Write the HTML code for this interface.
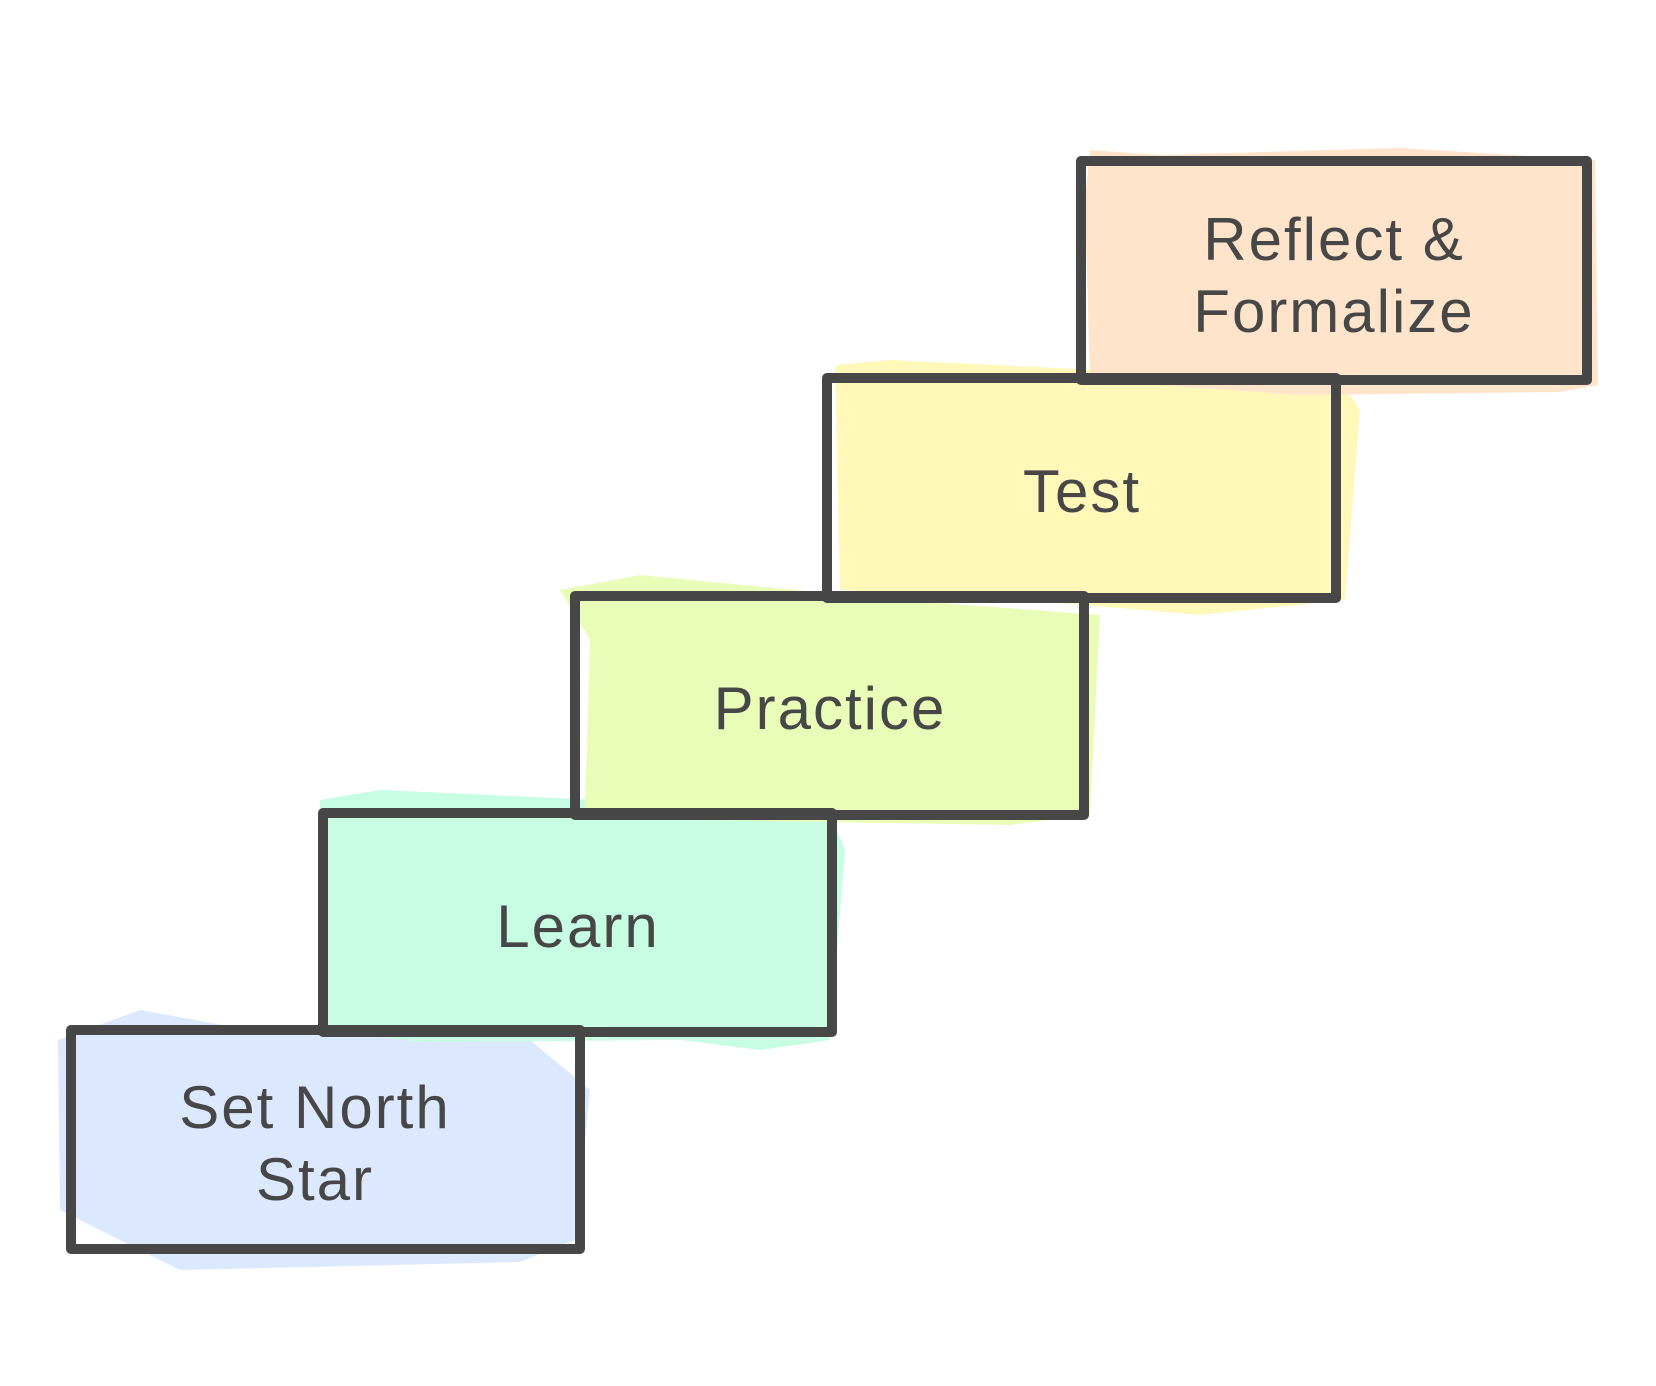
<!DOCTYPE html>
<html><head><meta charset="utf-8"><style>
html,body{margin:0;padding:0;background:#fff;}
svg{display:block}
text{font-family:"Liberation Sans",sans-serif;font-size:60px;fill:#474747;text-anchor:middle;letter-spacing:2px;}
</style></head><body>
<svg width="1656" height="1386" viewBox="0 0 1656 1386" xmlns="http://www.w3.org/2000/svg">
<g>
<polygon points="58,1040 140,1010 250,1030 500,1015 590,1090 575,1240 520,1262 180,1270 60,1210" fill="#dbe8fd"/>
<polygon points="320,800 380,790 600,800 820,790 845,850 830,1040 760,1050 680,1040 420,1042 325,1030" fill="#c7fde3"/>
<polygon points="560,590 640,575 900,600 1100,615 1090,815 1010,825 700,820 585,810 590,640" fill="#e9fdb9"/>
<polygon points="835,365 890,360 1100,370 1350,395 1360,410 1345,600 1200,615 1000,598 840,590" fill="#fff8b9"/>
<polygon points="1090,150 1160,155 1400,148 1595,160 1598,385 1560,392 1300,395 1090,380 1085,200" fill="#ffe4cc"/>
</g>
<g fill="none" stroke="#474747" stroke-width="10" stroke-linejoin="round" stroke-linecap="round">
<rect x="1081" y="161" width="506" height="219"/>
<rect x="827" y="378" width="509" height="220"/>
<rect x="575" y="596" width="509" height="219"/>
<rect x="323" y="813" width="509" height="219"/>
<rect x="71" y="1030" width="509" height="219"/>
</g>
<text x="1334" y="260">Reflect &amp;</text>
<text x="1334" y="332">Formalize</text>
<text x="1082" y="512">Test</text>
<text x="830" y="729">Practice</text>
<text x="578" y="947">Learn</text>
<text x="315" y="1128">Set North</text>
<text x="315" y="1200">Star</text>
</svg>
</body></html>
